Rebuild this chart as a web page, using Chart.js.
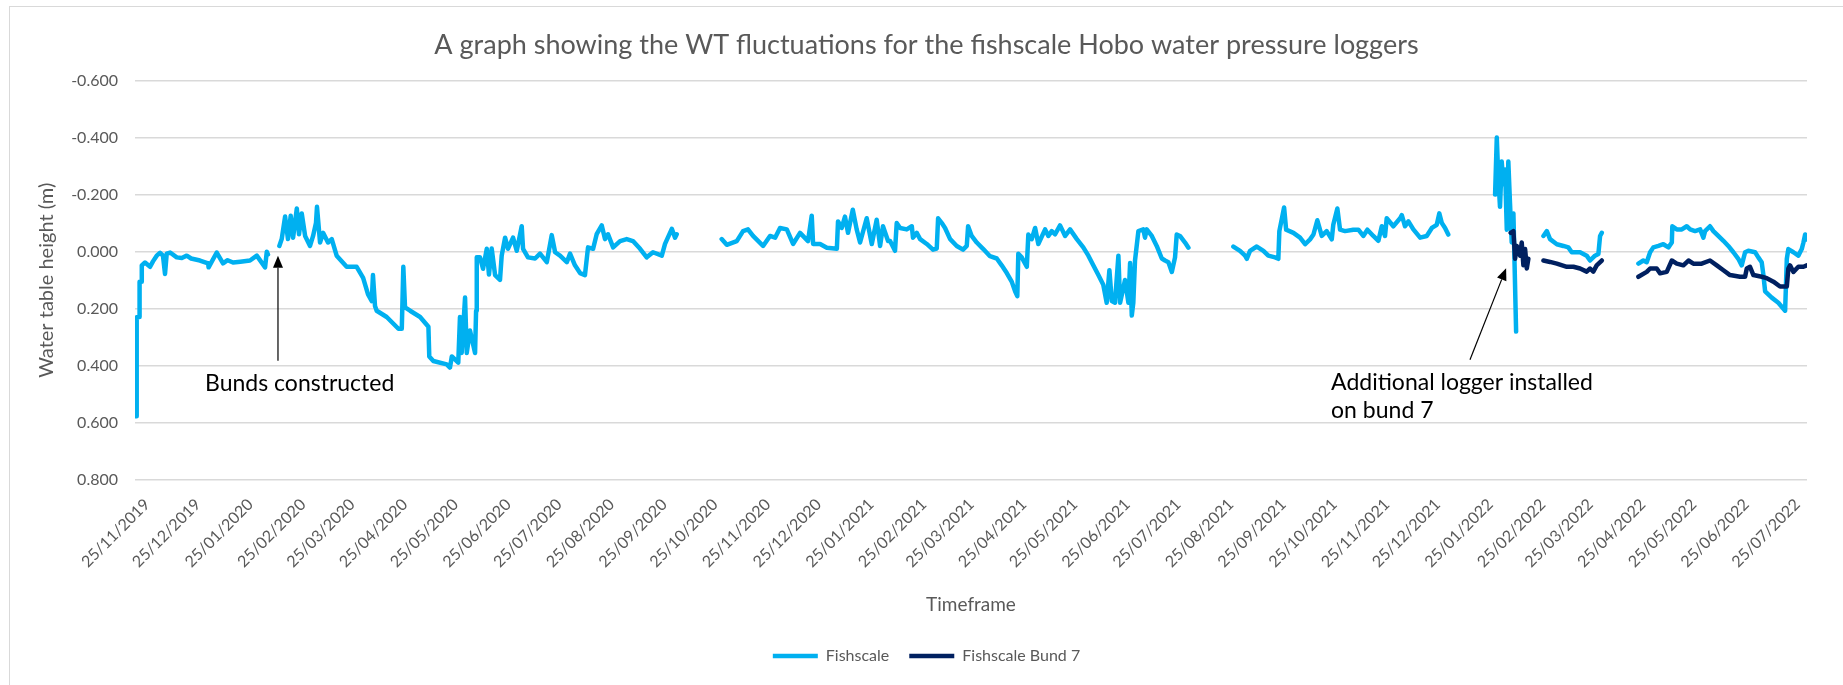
<!DOCTYPE html>
<html lang="en">
<head>
<meta charset="utf-8">
<title>WT fluctuations - fishscale Hobo loggers</title>
<script src="https://cdn.jsdelivr.net/npm/chart.js@4.4.1/dist/chart.umd.min.js"></script>
<style>
  html, body { margin: 0; padding: 0; background: #ffffff; }
  canvas { display: block; }
</style>
</head>
<body>
<canvas id="wtChart" width="1843" height="685"></canvas>
<script>
// x values are days after 25/11/2019, y values are water table height (m)

// tick marks on the time axis (days after 25/11/2019) and their labels
const tickDays = [0, 30, 61, 92, 121, 152, 182, 213, 243, 274, 305, 335, 366, 396, 427, 458, 486,
    517, 547, 578, 608, 639, 670, 700, 731, 761, 792, 823, 851, 882, 912, 943, 973];
const tickLabels = ['25/11/2019', '25/12/2019', '25/01/2020', '25/02/2020', '25/03/2020', '25/04/2020',
    '25/05/2020', '25/06/2020', '25/07/2020', '25/08/2020', '25/09/2020', '25/10/2020', '25/11/2020',
    '25/12/2020', '25/01/2021', '25/02/2021', '25/03/2021', '25/04/2021', '25/05/2021', '25/06/2021',
    '25/07/2021', '25/08/2021', '25/09/2021', '25/10/2021', '25/11/2021', '25/12/2021', '25/01/2022',
    '25/02/2022', '25/03/2022', '25/04/2022', '25/05/2022', '25/06/2022', '25/07/2022'];

// Fishscale logger (null = no record)
const fishscaleDays = [
    -6.5, -6.1, -4.5, -4.4, -3.4, -3.1, -1.2, 1.8, 3.5, 5.7, 7.7, 9.4, 10.6, 11.6, 13.6, 17.5, 20.5, 23.4, 26.0, 31.2, 36.0, 36.3, 41.1, 44.8, 47.5, 50.7, 55.0, 60.7, 64.7, 69.6, 70.6, 71.3,
    75,
    78.0, 79.4, 81.4, 83.1, 84.7, 86.1, 88.3, 89.6, 91.2, 93.2, 96.1, 97.9, 99.6, 100.2, 102.0, 103.8, 106.7, 108.9, 111.8, 117.7,
    123.6, 127.4, 130.3, 132.5, 133.2, 134.4, 135.4, 141.3, 148.2, 150.2, 151.1, 152.1, 155.1, 161.0, 165.9, 166.4, 168.8, 176.7, 178.6, 179.7,
    183.5, 184.5, 185.5, 187.5, 188.5, 190.4, 193.4, 194.0, 194.4,
    196.3, 198.1, 200.3, 201.6, 203.2, 205.2, 208.1, 209.1, 211.1, 212.8, 215.8, 218.0, 220.9, 221.7, 224.6, 228.8, 231.7, 235.7, 238.6, 240.6,
    243.5, 247.5, 249.4, 252.3, 255.3, 258.2, 260.0, 263.0, 265.1, 268.1, 270.0, 271.8, 274.8, 278.9, 282.8, 286.5, 290.7, 294.6, 298.3, 303.5,
    305.4, 309.4, 311.3, 312.3,
    325,
    338.8, 341.8, 347.7, 351.4, 354.3, 357.3, 363.2, 367.3, 370.3, 373.2,
    377.2, 380.9, 385.0, 389.7, 391.9, 392.7, 396.8, 400.8, 406.7, 407.4,
    409.6, 411.5, 413.3, 416.1, 418.4, 420.4, 424.3, 427.3, 430.2, 432.2,
    433.9, 436.9, 438.1, 441.0, 442.0, 444.0, 447.9, 450.9, 451.6, 453.8,
    455.8, 459.7, 463.4, 465.6, 466.4, 468.6, 470.5, 473.5, 477.4, 481.1,
    483.3, 484.1, 486.2, 489.2, 492.9, 497.0, 501.0, 503.9, 506.9, 509.8,
    511.8, 513.1, 513.7, 515.7, 518.7, 519.6, 521.6, 523.6, 525.5, 529.5,
    531.4, 533.4, 535.4, 538.3, 541.3, 544.2, 548.2, 552.0, 555.0, 557.9,
    560.9, 563.8, 565.8, 567.4, 568.8, 570.7, 572.7, 573.7, 576.6, 578.6,
    579.6, 580.6, 581.5, 582.5, 584.5, 587.4, 588.4, 589.4, 592.4, 595.3,
    598.3, 600.2, 602.2, 604.2, 606.1, 607.1, 609.0, 612.0, 614.0,
    627,
    640.5, 644.4, 647.4, 648.4, 650.3, 654.3, 658.2, 661.1, 665.1, 667.0,
    667.6, 670.4, 671.6, 675.9, 679.8, 682.8, 685.7, 687.7, 690.0, 692.6,
    695.5, 698.5, 699.4, 701.8, 703.4, 706.3, 711.2, 714.2, 717.1, 719.5,
    723.0, 726.0, 728.0, 729.9, 730.9, 734.8, 738.8, 739.8, 741.7, 743.7,
    746.6, 750.6, 754.5, 757.5, 760.4, 761.9, 763.4, 765.3, 767.2,
    780,
    794.8, 795.8, 796.7, 797.7, 798.7, 799.7, 800.7, 801.7, 802.6, 803.6, 804.6, 805.6, 806.3, 807.2,
    815,
    823.3, 825.3, 827.2, 831.2, 835.1, 838.0, 840.0, 844.9, 848.8, 850.8, 853.7, 855.7, 856.7, 857.7,
    868,
    879.3, 882.2, 884.2, 886.2, 888.1, 891.1, 894.0, 897.0, 899.0, 899.3,
    901.9, 904.9, 907.8, 909.8, 912.7, 915.7, 917.6, 918.6, 921.5, 923.5,
    926.4, 929.4, 932.3, 935.3, 938.2, 940.2, 942.2, 944.1, 948.1, 950.0,
    952.0, 953.0, 954.0, 957.9, 961.8, 965.8, 966.8, 967.7, 970.7, 973.6,
    975.6, 976.6, 977.6, 978.6
];
const fishscaleValues = [
    0.577, 0.230, 0.229, 0.105, 0.105, 0.048, 0.038, 0.053, 0.034, 0.014, 0.004, 0.014, 0.078, 0.007, 0.003, 0.020, 0.022, 0.014, 0.024, 0.031, 0.041, 0.055, 0.003, 0.041, 0.030, 0.038, 0.035, 0.031, 0.014, 0.055, 0.000, 0.010,
    null,
    -0.020, -0.044, -0.123, -0.044, -0.126, -0.049, -0.151, -0.061, -0.134, -0.055, -0.020, -0.055, -0.100, -0.157, -0.032, -0.066, -0.032, -0.044, 0.014, 0.053,
    0.053, 0.092, 0.150, 0.173, 0.082, 0.190, 0.207, 0.229, 0.270, 0.270, 0.053, 0.195, 0.207, 0.229, 0.263, 0.367, 0.383, 0.395, 0.406, 0.367,
    0.389, 0.229, 0.355, 0.161, 0.355, 0.276, 0.355, 0.207, 0.020,
    0.020, 0.060, -0.010, 0.080, -0.011, 0.082, 0.099, 0.014, -0.049, -0.010, -0.049, -0.003, -0.089, -0.010, 0.020, 0.024, 0.007, 0.037, -0.058, 0.002,
    0.014, 0.037, 0.007, 0.048, 0.075, 0.082, -0.015, -0.010, -0.061, -0.092, -0.044, -0.061, -0.015, -0.037, -0.044, -0.037, -0.010, 0.020, 0.002, 0.014,
    -0.027, -0.080, -0.049, -0.061,
    null,
    -0.044, -0.024, -0.037, -0.072, -0.078, -0.055, -0.020, -0.055, -0.049, -0.083,
    -0.078, -0.027, -0.066, -0.037, -0.126, -0.027, -0.027, -0.014, -0.010, -0.106,
    -0.083, -0.123, -0.066, -0.147, -0.078, -0.032, -0.117, -0.027, -0.112, -0.020,
    -0.089, -0.037, -0.037, -0.003, -0.100, -0.083, -0.078, -0.089, -0.049, -0.066,
    -0.044, -0.027, -0.007, -0.011, -0.117, -0.100, -0.083, -0.044, -0.020, -0.007,
    -0.020, -0.089, -0.055, -0.032, -0.010, 0.016, 0.024, 0.048, 0.075, 0.105,
    0.139, 0.156, 0.007, 0.020, 0.053, -0.060, -0.044, -0.083, -0.027, -0.078,
    -0.055, -0.072, -0.061, -0.092, -0.055, -0.078, -0.044, -0.015, 0.014, 0.048,
    0.082, 0.116, 0.179, 0.065, 0.173, 0.179, 0.014, 0.179, 0.099, 0.179,
    0.040, 0.224, 0.179, 0.031, -0.072, -0.078, -0.049, -0.078, -0.055, -0.020,
    0.024, 0.031, 0.037, 0.071, 0.020, -0.060, -0.055, -0.032, -0.014,
    null,
    -0.018, -0.003, 0.014, 0.025, -0.003, -0.018, -0.003, 0.014, 0.020, 0.025,
    -0.072, -0.155, -0.077, -0.066, -0.049, -0.026, -0.043, -0.060, -0.110, -0.055,
    -0.072, -0.043, -0.094, -0.151, -0.077, -0.072, -0.077, -0.077, -0.055, -0.077,
    -0.055, -0.038, -0.089, -0.055, -0.117, -0.089, -0.117, -0.128, -0.089, -0.106,
    -0.078, -0.049, -0.055, -0.083, -0.094, -0.134, -0.100, -0.083, -0.060,
    null,
    -0.200, -0.400, -0.259, -0.157, -0.316, -0.236, -0.288, -0.077, -0.316, -0.168, -0.032, -0.134, 0.048, 0.280,
    null,
    -0.055, -0.072, -0.044, -0.026, -0.020, -0.015, 0.002, 0.002, 0.014, 0.031, 0.014, 0.008, -0.055, -0.066,
    null,
    0.042, 0.031, 0.037, 0.002, -0.015, -0.020, -0.026, -0.015, -0.032, -0.089,
    -0.078, -0.078, -0.089, -0.078, -0.072, -0.078, -0.049, -0.072, -0.089, -0.072,
    -0.055, -0.038, -0.020, 0.002, 0.025, 0.048, 0.002, -0.003, 0.002, 0.020,
    0.037, 0.082, 0.139, 0.161, 0.179, 0.207, 0.025, -0.009, 0.002, 0.014,
    -0.009, -0.032, -0.060, -0.043
];

// Fishscale Bund 7 logger (installed Feb 2022)
const bund7Days = [
    804.0, 805.6, 806.6, 807.6, 809.5, 810.5, 811.5, 812.5, 813.5, 814.4,
    818,
    823.3, 827.2, 831.2, 837.1, 841.0, 844.9, 848.8, 850.8, 852.7, 854.7, 857.7,
    868,
    879.3, 884.2, 886.2, 890.1, 892.1, 896.0, 899.0, 901.9, 905.8, 908.8,
    911.7, 916.6, 921.5, 925.5, 929.4, 933.3, 939.2, 942.2, 943.2, 945.1,
    947.1, 952.0, 955.0, 958.9, 962.8, 966.8, 967.7, 968.7, 970.7, 973.6,
    976.6, 978.6
];
const bund7Values = [
    -0.066, -0.072, 0.025, -0.020, 0.014, -0.032, 0.048, -0.009, 0.059, 0.025,
    null,
    0.031, 0.036, 0.042, 0.053, 0.053, 0.059, 0.070, 0.059, 0.070, 0.048, 0.031,
    null,
    0.088, 0.071, 0.059, 0.059, 0.076, 0.071, 0.031, 0.042, 0.048, 0.031,
    0.042, 0.042, 0.031, 0.048, 0.065, 0.082, 0.088, 0.088, 0.059, 0.053,
    0.082, 0.088, 0.093, 0.105, 0.122, 0.122, 0.059, 0.048, 0.071, 0.053,
    0.053, 0.048
];

// text notes with arrows, placed in data coordinates
const bundsNote = { lines: ['Bunds constructed'], textDay: 34.2, textValue: 0.461,
    fromDay: 77.2, fromValue: 0.382, toDay: 77.2, toValue: 0.014 };
const loggerNote = { lines: ['Additional logger installed', 'on bund 7'], textDay: 698.1, textValue: 0.457,
    fromDay: 780.0, fromValue: 0.379, toDay: 801.3, toValue: 0.058 };

const greyText = '#595959';
Chart.defaults.font.family = 'Lato';

const toPoints = (days, values) => days.map((d, i) => ({ x: d, y: values[i] }));

const drawArrow = (ctx, x1, y1, x2, y2) => {
    const angle = Math.atan2(y2 - y1, x2 - x1);
    const headLen = 12;
    const headHalf = 5;
    ctx.save();
    ctx.strokeStyle = '#000000';
    ctx.fillStyle = '#000000';
    ctx.lineWidth = 1.2;
    ctx.beginPath();
    ctx.moveTo(x1, y1);
    ctx.lineTo(x2 - Math.cos(angle) * headLen, y2 - Math.sin(angle) * headLen);
    ctx.stroke();
    ctx.translate(x2, y2);
    ctx.rotate(angle);
    ctx.beginPath();
    ctx.moveTo(0, 0);
    ctx.lineTo(-headLen, -headHalf);
    ctx.lineTo(-headLen, headHalf);
    ctx.closePath();
    ctx.fill();
    ctx.restore();
};

// chart frame + white background
const framePlugin = {
    id: 'frame',
    beforeDraw(chart) {
        const { ctx, width, height } = chart;
        ctx.save();
        ctx.fillStyle = '#ffffff';
        ctx.fillRect(0, 0, width, height);
        ctx.strokeStyle = '#D9D9D9';
        ctx.lineWidth = 1;
        ctx.strokeRect(9.5, 6.5, width + 10, height + 10);
        ctx.restore();
    }
};

const notesPlugin = {
    id: 'notes',
    afterDatasetsDraw(chart) {
        const { ctx, scales: { x, y } } = chart;
        [bundsNote, loggerNote].forEach(note => {
            drawArrow(ctx, x.getPixelForValue(note.fromDay), y.getPixelForValue(note.fromValue),
                x.getPixelForValue(note.toDay), y.getPixelForValue(note.toValue));
            ctx.save();
            ctx.fillStyle = '#000000';
            ctx.font = '23px Lato';
            ctx.textAlign = 'left';
            ctx.textBaseline = 'middle';
            const tx = x.getPixelForValue(note.textDay);
            const ty = y.getPixelForValue(note.textValue);
            note.lines.forEach((line, i) => ctx.fillText(line, tx, ty + i * 28));
            ctx.restore();
        });
    }
};

const ctx = document.getElementById('wtChart').getContext('2d');
const wtChart = new Chart(ctx, {
    type: 'line',
    data: {
        datasets: [{
            label: 'Fishscale',
            data: toPoints(fishscaleDays, fishscaleValues),
            borderColor: '#00B0F0',
            backgroundColor: '#00B0F0',
            borderWidth: 4.5,
            borderCapStyle: 'round',
            borderJoinStyle: 'round',
            pointRadius: 0,
            tension: 0,
            order: 1
        }, {
            label: 'Fishscale Bund 7',
            data: toPoints(bund7Days, bund7Values),
            borderColor: '#002060',
            backgroundColor: '#002060',
            borderWidth: 4.5,
            borderCapStyle: 'round',
            borderJoinStyle: 'round',
            pointRadius: 0,
            tension: 0,
            order: 0
        }]
    },
    options: {
        responsive: false,
        animation: false,
        events: [],
        layout: { padding: { left: 10, right: 0, top: 0, bottom: 11 } },
        scales: {
            x: {
                type: 'linear',
                min: -7.1,
                max: 978.7,
                grid: { display: false, drawTicks: false },
                border: { display: false },
                afterBuildTicks: scale => { scale.ticks = tickDays.map(v => ({ value: v })); },
                afterFit: scale => { scale.height = 148; },
                ticks: {
                    autoSkip: false,
                    minRotation: 45,
                    maxRotation: 45,
                    padding: 15,
                    color: greyText,
                    font: { size: 16 },
                    callback: (value, index) => tickLabels[index]
                },
                title: {
                    display: true,
                    text: 'Timeframe',
                    color: greyText,
                    font: { size: 19 },
                    padding: { top: 4, bottom: 12 }
                }
            },
            y: {
                reverse: true,
                min: -0.6,
                max: 0.8,
                grid: { color: '#D9D9D9', lineWidth: 1.5, drawTicks: false },
                border: { display: false },
                afterFit: scale => { scale.width = 125; },
                ticks: {
                    stepSize: 0.2,
                    padding: 17,
                    color: greyText,
                    font: { size: 16 },
                    callback: value => (Math.abs(value) < 1e-9 ? 0 : value).toFixed(3)
                },
                title: {
                    display: true,
                    text: 'Water table height (m)',
                    color: greyText,
                    font: { size: 20 },
                    padding: { top: 25, bottom: 0 }
                }
            },
            // empty right-hand axis, keeps the plot clear of the right edge
            spacer: {
                position: 'right',
                grid: { display: false },
                border: { display: false },
                ticks: { display: false },
                afterFit: scale => { scale.width = 36; }
            }
        },
        plugins: {
            title: {
                display: true,
                text: 'A graph showing the WT fluctuations for the fishscale Hobo water pressure loggers',
                color: greyText,
                font: { size: 27, weight: 'normal' },
                padding: { top: 29, bottom: 19 }
            },
            legend: {
                position: 'bottom',
                labels: {
                    usePointStyle: true,
                    pointStyle: 'line',
                    pointStyleWidth: 45,
                    color: greyText,
                    font: { size: 16 },
                    padding: 20,
                    sort: (a, b) => a.datasetIndex - b.datasetIndex
                }
            },
            tooltip: { enabled: false }
        }
    },
    plugins: [framePlugin, notesPlugin]
});
</script>
</body>
</html>
